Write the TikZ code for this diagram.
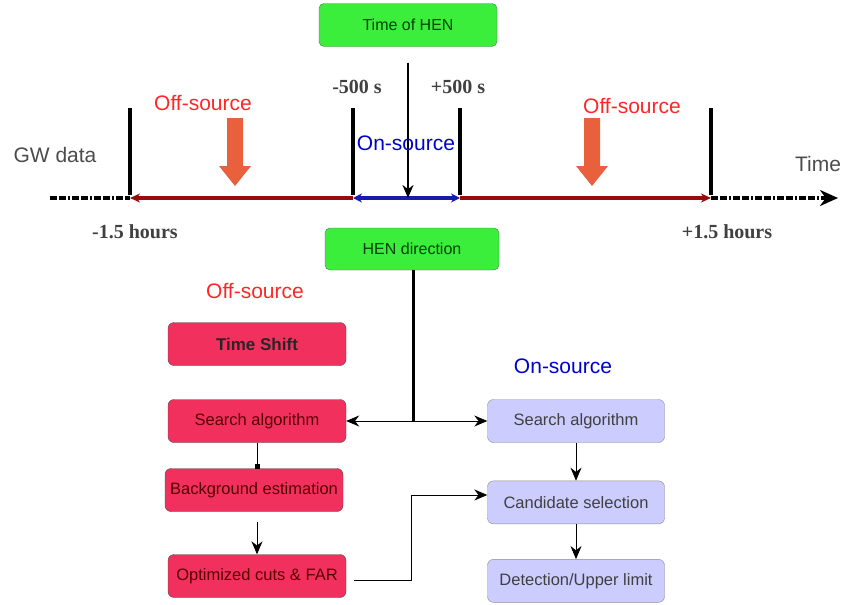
\documentclass[tikz,border=0pt]{standalone}
\usepackage{fontspec}
\setmainfont{Liberation Sans}
\newfontfamily\timesfont{Liberation Serif}
\usepackage{xcolor}
\usetikzlibrary{arrows.meta,positioning,calc}

\definecolor{hengreen}{HTML}{3BEE3B}
\definecolor{offred}{HTML}{F2305E}
\definecolor{onblue}{HTML}{CCCCFF}
\definecolor{linered}{HTML}{990A0A}
\definecolor{lineblue}{HTML}{1A1AAA}
\definecolor{bigarrow}{HTML}{E8603C}

\tikzset{
  henbox/.style={rectangle,rounded corners=5pt,draw=black!60,fill=hengreen,text=green!25!black,
    minimum width=178pt,minimum height=43pt,font=\fontsize{16}{19}\selectfont},
  offbox/.style={rectangle,rounded corners=6pt,draw=black!70,fill=offred,text=red!35!black,
    minimum width=178pt,minimum height=43pt,font=\fontsize{16.5}{19}\selectfont},
  onbox/.style={rectangle,rounded corners=6pt,draw=black!45,fill=onblue,text=black!75,
    minimum width=177pt,minimum height=43pt,font=\fontsize{16.5}{19}\selectfont},
  bar/.style={line width=3.5pt},
  tlabel/.style={font=\timesfont\bfseries\fontsize{20}{23}\selectfont,text=black!75},
  bigtext/.style={font=\fontsize{21}{24}\selectfont}
}

\begin{document}
\begin{tikzpicture}[x=1pt,y=-1pt,>={Stealth[length=13pt,width=11pt]}]
      \useasboundingbox (0,0) rectangle (844,605);

      % time line
      \coordinate (t0) at (50,198);
      \coordinate (t1) at (130,198);
      \coordinate (m1) at (353,198);
      \coordinate (m2) at (460,198);
      \coordinate (t2) at (711,198);
      \coordinate (t3) at (838,198);
      \draw[line width=3.5pt,dash pattern=on 7pt off 2pt on 7pt off 2pt on 2pt off 2pt] (t0) -- (t1);
      \draw[line width=3.5pt,linered,-{Stealth[length=10pt,width=9pt]}] (m1) -- (t1);
      \draw[line width=3.5pt,lineblue,{Stealth[length=9pt,width=9pt]}-{Stealth[length=9pt,width=9pt]}] (m1) -- (m2);
      \draw[line width=3.5pt,linered,-{Stealth[length=10pt,width=9pt]}] (m2) -- (t2);
      \draw[line width=3.5pt,dash pattern=on 7pt off 2pt on 7pt off 2pt on 2pt off 2pt,-{Stealth[length=18pt,width=16pt]}] (t2) -- (t3);
      \foreach \x in {130,353,460,711}
        \draw[bar] (\x,108) -- (\x,195);

      \node[henbox] (hentime) at (408,25) {Time of HEN};
      \draw[->,line width=2pt,shorten <=16pt] (hentime.south) -- (hentime.south |- m1);

      \node[tlabel] (minus500) at (357,87) {-500 s};
      \node[tlabel] (plus500) at (458,87) {+500 s};
      \node[tlabel] (minus15) at (135,232) {-1.5 hours};
      \node[tlabel] (plus15) at (727,232) {+1.5 hours};

      \node[bigtext,text=red!85!white] (offleft) at (203,103) {Off-source};
      \node[bigtext,text=red!85!white] (offright) at (632,106) {Off-source};
      \node[bigtext,text=blue!80!black] (onmid) at (406,143) {On-source};
      \node[bigtext,text=black!70] (gwdata) at (55,155) {GW data};
      \node[bigtext,text=black!70] (timelabel) at (818,164) {Time};

      % orange arrows
      \foreach \x in {235,592}
        \fill[bigarrow] (\x-8,118) -- (\x+8,118) -- (\x+8,166) -- (\x+16,166) -- (\x,186)
          -- (\x-16,166) -- (\x-8,166) -- cycle;

      \node[henbox,minimum width=174pt,minimum height=42pt] (hendir) at (412,249) {HEN direction};

      % off-source chain
      \node[bigtext,text=red!85!white] (offlow) at (255,291) {Off-source};
      \node[offbox,text=black!85,font=\bfseries\fontsize{17}{20}\selectfont] (shift) at (257,344) {Time Shift};
      \node[offbox] (searchoff) at (257,421) {Search algorithm};
      \node[offbox] (background) at (254,490) {Background estimation};
      \node[offbox] (cuts) at (257,576) {Optimized cuts \& FAR};

      % on-source chain
      \node[bigtext,text=blue!80!black] (onlow) at (563,366) {On-source};
      \node[onbox] (searchon) at (576,421) {Search algorithm};
      \node[onbox,below=38pt of searchon] (candidate) {Candidate selection};
      \node[onbox,below=35pt of candidate] (detection) {Detection/Upper limit};

      \coordinate (split) at (413,421);
      \coordinate (bend) at (411,495);
      \draw[line width=3pt] (hendir.south -| split) -- (split);
      \draw[->,thick] (split) -- (searchoff.east);
      \draw[->,thick] (split) -- (searchon.west);
      \draw[-{Square[length=4pt,width=5pt]},thick] (searchoff.south) -- (searchoff.south |- background.north);
      \draw[->,thick,shorten <=10pt] (cuts.north |- background.south) -- (cuts.north);
      \draw[->,thick] ($(cuts.east)+(8,4)$) -| (bend) -- (bend -| candidate.west);
      \draw[->,thick] (searchon) -- (candidate);
      \draw[->,thick] (candidate) -- (detection);
    \end{tikzpicture}
\end{document}
